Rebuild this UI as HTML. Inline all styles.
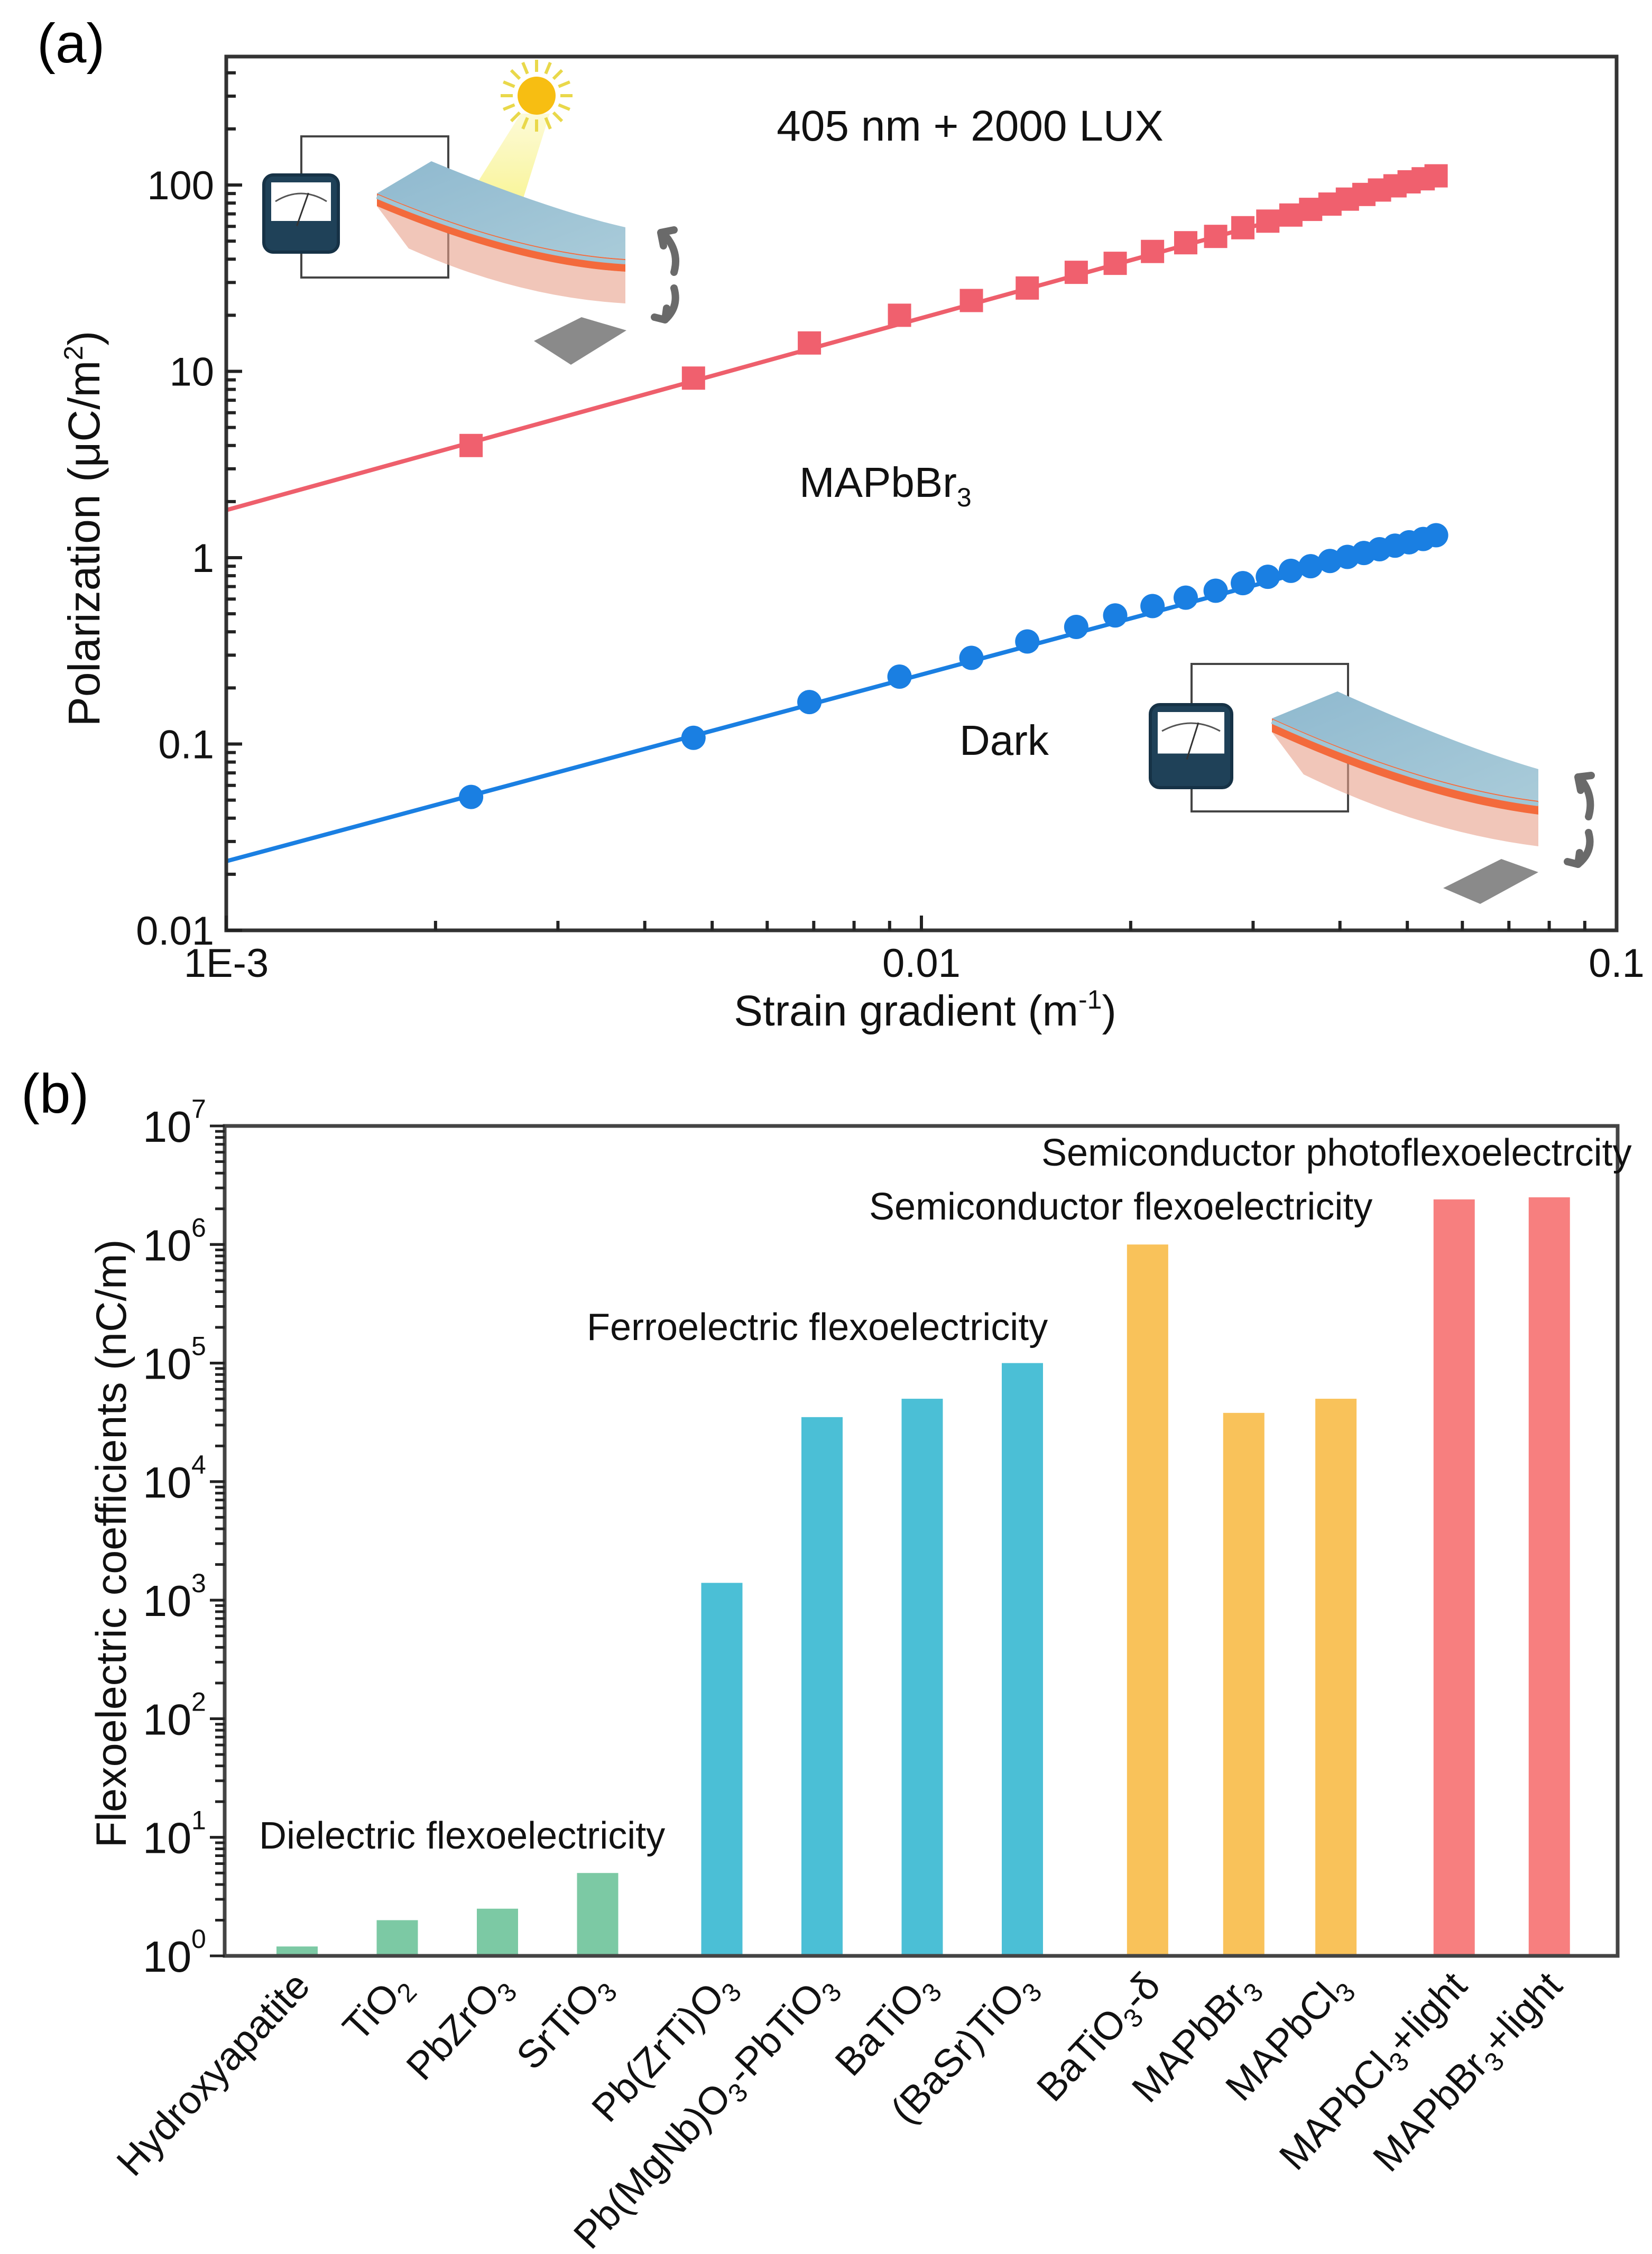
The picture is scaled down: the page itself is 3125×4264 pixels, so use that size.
<!DOCTYPE html>
<html><head><meta charset="utf-8">
<style>
html,body{margin:0;padding:0;background:#fff;}
svg{display:block;font-family:"Liberation Sans",Arial,sans-serif;}
</style></head>
<body>
<svg id="fig" width="3125" height="4264" viewBox="0 0 3125 4264" xmlns="http://www.w3.org/2000/svg">
<defs>
<linearGradient id="slabTop" x1="0" y1="0" x2="1" y2="1"><stop offset="0" stop-color="#8fb9cf"/><stop offset="1" stop-color="#a9cbd9"/></linearGradient>
<linearGradient id="beam" x1="0" y1="0" x2="0" y2="1"><stop offset="0" stop-color="#f7f07a" stop-opacity="0.3"/><stop offset="1" stop-color="#f5f060" stop-opacity="0.9"/></linearGradient>
</defs>
<g id="panelA"></g>
<g id="panelB"></g>
</svg>
<script>
// ---------- Panel (a) data ----------
const strainX = [0.00225,0.0047,0.0069,0.0093,0.0118,0.0142,0.0167,0.019,0.0215,0.024,0.0265,0.029,0.0315,0.034,0.0363,0.0387,0.041,0.0433,0.0456,0.048,0.0503,0.0527,0.055];
const lightP = [4,9.2,14.2,20,24,28,34,38,44,49,53,59,64,69,74,79,84,89,94,99,104,108,112];
const darkP = [0.052,0.108,0.168,0.23,0.29,0.355,0.425,0.49,0.55,0.61,0.665,0.73,0.79,0.85,0.9,0.96,1.01,1.06,1.11,1.16,1.21,1.26,1.32];
const fitX = [0.001,0.055];
const lightFitY = [1.8,112];
const darkFitY = [0.0235,1.3];
const aXTicks = [0.001,0.01,0.1];
const aXTickLabels = ["1E-3","0.01","0.1"];
const aYTicks = [0.01,0.1,1,10,100];
const aYTickLabels = ["0.01","0.1","1","10","100"];

// ---------- Panel (b) data ----------
const categories = ["Hydroxyapatite","TiO_2","PbZrO_3","SrTiO_3","Pb(ZrTi)O_3","Pb(MgNb)O_3-PbTiO_3","BaTiO_3","(BaSr)TiO_3","BaTiO_3-δ","MAPbBr_3","MAPbCl_3","MAPbCl_3+light","MAPbBr_3+light"];
const coefValues = [1.2,2,2.5,5,1400,35000,50000,100000,1000000,38000,50000,2400000,2500000];
const groups = [0,0,0,0,1,1,1,1,2,2,2,3,3];
const catSlots = [0,1,2,3,4.24,5.24,6.24,7.24,8.49,9.45,10.37,11.55,12.5];
const bYExp = [0,1,2,3,4,5,6,7];

const NS="http://www.w3.org/2000/svg";
function mk(tag,attrs,parent){const e=document.createElementNS(NS,tag);for(const k in attrs)e.setAttribute(k,attrs[k]);parent.appendChild(e);return e;}

// ======== PANEL A ========
const A=document.getElementById('panelA');
const aL=428,aR=3058,aT=107,aB=1760;
const aXmin=-3,aXmax=-1,aYmin=-2,aYmax=2+(350-107)/352.5;
function ax(v){return aL+(Math.log10(v)-aXmin)/(aXmax-aXmin)*(aR-aL);}
function ay(v){return aB-(Math.log10(v)-aYmin)/(aYmax-aYmin)*(aB-aT);}

let t=mk('text',{x:70,y:118,'font-size':105},A);t.textContent='(a)';



function inset(g,mx,my,mw,mh,rx1,ry1,rx2,ry2,slab,sup,arr){
  mk('rect',{x:rx1,y:ry1,width:rx2-rx1,height:ry2-ry1,fill:'none',stroke:'#444',"stroke-width":4},g);
  const m=mk('g',{},g);
  
  
  mk('rect',{x:mx,y:my,width:mw,height:mh,rx:18,fill:'#1f4158',stroke:'#163246','stroke-width':6},m);
  mk('rect',{x:mx+14,y:my+14,width:mw-28,height:mh*0.5,fill:'#fff'},m);
  mk('path',{d:`M${mx+22} ${my+50} Q${mx+mw/2} ${my+20} ${mx+mw-22} ${my+50}`,fill:'none',stroke:'#555','stroke-width':3},m);
  mk('line',{x1:mx+mw/2-8,y1:my+mh*0.66,x2:mx+mw/2+14,y2:my+34,stroke:'#333','stroke-width':3},m);
  const [x1,y1,x2,y2,x3,y3,th]=slab;
  const s=mk('g',{},g);
  
  
  mk('path',{d:`M${x1} ${y1+th} Q${(x1+x3)/2+30} ${(y1+y3)/2+th+50} ${x3} ${y3+th} L${x3} ${y3+th+60} Q${(x1+x3)/2+30} ${(y1+y3)/2+th+110} ${x1+60} ${y1+th+80} Z`,fill:'#e8a08a',opacity:0.6},s);
  mk('path',{d:`M${x1} ${y1} L${x2} ${y2} Q${(x2+x3)/2+40} ${(y2+y3)/2} ${x3} ${y3-60} L${x3} ${y3} Q${(x1+x3)/2+30} ${(y1+y3)/2+50} ${x1} ${y1} Z`,fill:'url(#slabTop)'},s);
  mk('path',{d:`M${x1} ${y1} Q${(x1+x3)/2+30} ${(y1+y3)/2+50} ${x3} ${y3} L${x3} ${y3+th} Q${(x1+x3)/2+30} ${(y1+y3)/2+th+50} ${x1} ${y1+th} Z`,fill:'#f36a3c'},s);
  mk('path',{d:`M${x1} ${y1+6} Q${(x1+x3)/2+30} ${(y1+y3)/2+56} ${x3} ${y3+6}`,fill:'none',stroke:'#9fc6d6','stroke-width':8},s);
  mk('polygon',{points:sup,fill:'#8a8a8a'},g);
  const ag=mk('path',{d:arr,fill:'none',stroke:'#6a6a6a','stroke-width':14,'stroke-linecap':'round'},g);
  
  
}
const ins1=mk('g',{},A);


mk('polygon',{points:'985,215 1040,215 960,470 850,430',fill:'url(#beam)'},ins1);
inset(ins1,499,331,141,146,570,258,848,525,[713,366,816,305,1183,490,24],'1010,645 1100,600 1185,625 1080,690','M1262 450 Q1285 480 1275 515 M1275 545 Q1285 580 1258 605 M1250 440 l25 -5 M1250 440 l5 25 M1258 605 l-20 -5 M1258 605 l3 -22');
const sun=mk('g',{},ins1);


for(let i=0;i<16;i++){const a=i*Math.PI/8;mk('line',{x1:1015+Math.cos(a)*45,y1:181+Math.sin(a)*45,x2:1015+Math.cos(a)*68,y2:181+Math.sin(a)*68,stroke:'#e9d84a','stroke-width':6},sun);}
mk('circle',{cx:1015,cy:181,r:36,fill:'#f7be12'},sun);

const ins2=mk('g',{},A);


inset(ins2,2176,1333,154,157,2254,1256,2550,1535,[2406,1359,2530,1308,2910,1515,26],'2730,1680 2840,1625 2910,1650 2800,1710','M2995 1480 Q3015 1510 3005 1545 M3005 1575 Q3015 1610 2985 1635 M2985 1470 l25 -3 M2985 1470 l5 25 M2985 1635 l-20 -5 M2985 1635 l3 -22');

const lf=mk('line',{x1:ax(fitX[0]),y1:ay(lightFitY[0]),x2:ax(fitX[1]),y2:ay(lightFitY[1]),stroke:'#ee5f6c','stroke-width':8},A);


const df=mk('line',{x1:ax(fitX[0]),y1:ay(darkFitY[0]),x2:ax(fitX[1]),y2:ay(darkFitY[1]),stroke:'#1a7fe2','stroke-width':8},A);


strainX.forEach((x,i)=>{
  const r=mk('rect',{x:ax(x)-22,y:ay(lightP[i])-22,width:44,height:44,fill:'#f0606e'},A);
  
  
  const c=mk('circle',{cx:ax(x),cy:ay(darkP[i]),r:23,fill:'#1a7fe2'},A);
  
  
});

const fa=mk('rect',{x:aL,y:aT,width:aR-aL,height:aB-aT,fill:'none',stroke:'#333','stroke-width':7},A);


for(let d=-3;d<-1;d++)for(let k=1;k<10;k++){const x=ax(k*Math.pow(10,d));mk('line',{x1:x,y1:aB,x2:x,y2:aB-(k==1?28:18),stroke:'#222','stroke-width':6},A);}
for(let d=-2;d<3;d++)for(let k=1;k<10;k++){const v=k*Math.pow(10,d);if(v>Math.pow(10,aYmax))continue;const y=ay(v);mk('line',{x1:aL,y1:y,x2:aL+(k==1?30:18),y2:y,stroke:'#222','stroke-width':6},A);}
aXTicks.forEach((v,i)=>{const e=mk('text',{x:ax(v),y:1848,'font-size':76,'text-anchor':'middle',fill:'#111'},A);e.textContent=aXTickLabels[i];

});
aYTicks.forEach((v,i)=>{const e=mk('text',{x:405,y:ay(v)+27,'font-size':76,'text-anchor':'end',fill:'#111'},A);e.textContent=aYTickLabels[i];

});
</script>
<script>
(function(){
const A=document.getElementById('panelA');
A.insertAdjacentHTML('beforeend',
`<text x="1750" y="1940" font-size="82" text-anchor="middle" fill="#111">Strain gradient (m<tspan dy="-32" font-size="50">-1</tspan><tspan dy="32">)</tspan></text>
<text transform="translate(188,1000) rotate(-90)" font-size="84" text-anchor="middle" fill="#111">Polarization (μC/m<tspan dy="-32" font-size="50">2</tspan><tspan dy="32">)</tspan></text>
<text x="1835" y="266" font-size="82" text-anchor="middle" fill="#111">405 nm + 2000 LUX</text>
<text x="1512" y="940" font-size="80" fill="#111">MAPbBr<tspan dy="18" font-size="50">3</tspan></text>
<text x="1815" y="1428" font-size="80" fill="#111">Dark</text>`);
})();
</script>
<script>
(function(){
const B=document.getElementById('panelB');
const bL=425,bR=3060,bT=2130,bB=3700;
const colors=['#7cc9a4','#4bbfd6','#f9c25a','#f77f7f'];
function by(v){return bB-(Math.log10(v)-0)/7*(bB-bT);}
function bx(s){return 562+s*189.5;}
let t=mk('text',{x:40,y:2105,'font-size':105},B);t.textContent='(b)';


categories.forEach((c,i)=>{
  const cx=bx(catSlots[i]);
  const r=mk('rect',{x:cx-39,y:by(coefValues[i]),width:78,height:bB-by(coefValues[i]),fill:colors[groups[i]]},B);
  
  
  const lab=mk('text',{transform:`translate(${cx+28},${bB+60}) rotate(-47)`,'text-anchor':'end','font-size':74,fill:'#111'},B);
  
  
  const parts=c.split('_');
  parts.forEach((p,j)=>{
    if(j==0){const s=mk('tspan',{},lab);s.textContent=p;return;}
    const sub=p[0],rest=p.slice(1);
    const s1=mk('tspan',{dy:16,'font-size':50},lab);s1.textContent=sub;
    if(rest){const s2=mk('tspan',{dy:-16},lab);s2.textContent=rest;}
  });
});
const fb=mk('rect',{x:bL,y:bT,width:bR-bL,height:bB-bT,fill:'none',stroke:'#444','stroke-width':7},B);


for(let d=0;d<7;d++)for(let k=1;k<=10;k++){const y=by(k*Math.pow(10,d));mk('line',{x1:bL-(k==1||k==10?28:0),y1:y,x2:bL-(k==1||k==10?0:18),y2:y,stroke:'#222','stroke-width':5},B);}
bYExp.forEach(e=>{const y=by(Math.pow(10,e));const tx=mk('text',{x:270,y:y+30,'font-size':83,fill:'#111'},B);tx.textContent='10';


const sp=mk('text',{x:362,y:y-15,'font-size':50,fill:'#111'},B);sp.textContent=String(e);

});
B.insertAdjacentHTML('beforeend',
`<text transform="translate(238,2920) rotate(-90)" font-size="81" text-anchor="middle" fill="#111">Flexoelectric coefficients (nC/m)</text>
<text x="490" y="3497" font-size="72" fill="#111">Dielectric flexoelectricity</text>
<text x="1110" y="2535" font-size="72" fill="#111">Ferroelectric flexoelectricity</text>
<text x="1644" y="2307" font-size="72" fill="#111">Semiconductor flexoelectricity</text>
<text x="1970" y="2205" font-size="72" fill="#111">Semiconductor photoflexoelectrcity</text>`);
})();
</script>
</body></html>
